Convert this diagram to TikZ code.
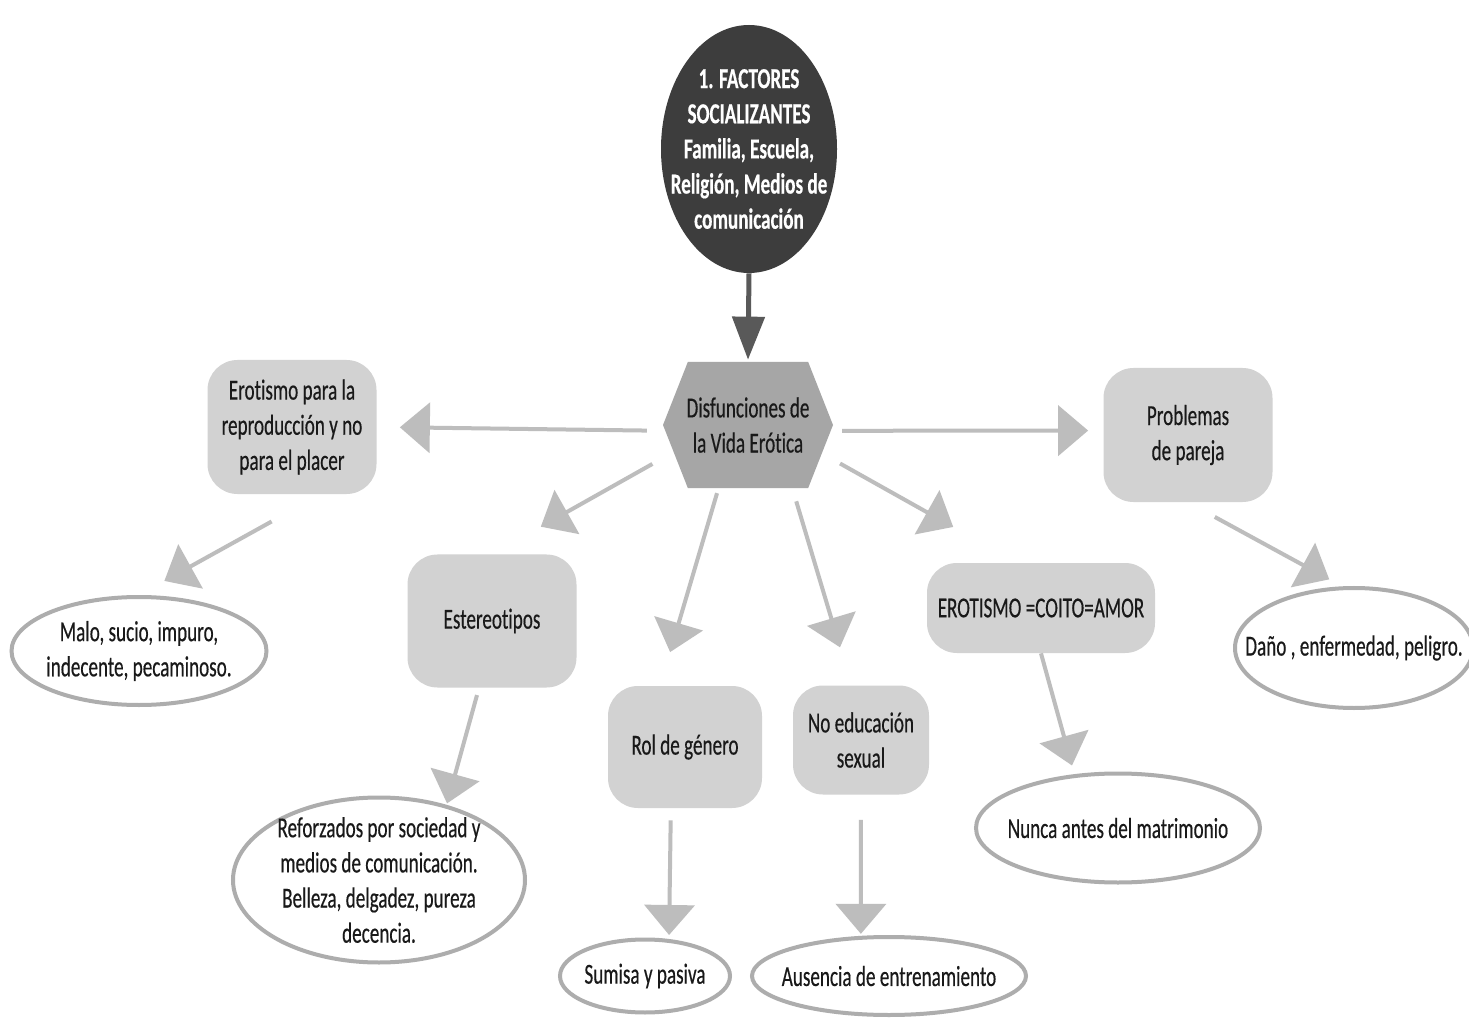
\documentclass[tikz,border=0pt]{standalone}
\usepackage{fontspec}
\setmainfont{Carlito}[FakeStretch=0.66, FakeBold=0.4, Ligatures=NoCommon]
\usepackage{xcolor}
\usepackage{tikz}
\usetikzlibrary{arrows.meta,shapes.geometric,shapes.symbols}

\definecolor{darknode}{HTML}{3D3D3D}
\definecolor{hexgray}{HTML}{A6A6A6}
\definecolor{boxgray}{HTML}{D2D2D2}
\definecolor{arrowgray}{HTML}{BDBDBD}
\definecolor{rimgray}{HTML}{ADADAD}
\definecolor{darkarrow}{HTML}{595959}

\begin{document}
\begin{tikzpicture}[x=0.2mm, y=-0.2mm,
    every node/.style={font=\fontsize{16.5}{20}\selectfont, align=center, inner sep=-10mm, text=black!90},
    topic/.style={ellipse, fill=darknode, text=white, font=\fontsize{16.5}{20}\selectfont\bfseries},
    hexa/.style={signal, signal to=west and east, signal pointer angle=137, fill=hexgray},
    box/.style={rectangle, rounded corners=6mm, fill=boxgray},
    oval/.style={ellipse, draw=rimgray, line width=0.8mm, fill=white},
    arr/.style={draw=arrowgray, line width=0.8mm, -{Triangle[length=6mm,width=10mm]}},
    darr/.style={draw=darkarrow, line width=1mm, -{Triangle[length=8.6mm,width=6.4mm]}}
]
    \fill[white] (0,0) rectangle (1469,1022);
    \useasboundingbox (0,0) rectangle (1469,1022);

    \node[topic, minimum width=35.2mm, minimum height=49.6mm] (soc) at (749,149) {1. FACTORES\\SOCIALIZANTES\\Familia, Escuela,\\Religión, Medios de\\comunicación};
    \node[hexa, minimum width=34mm, minimum height=25.2mm] (dis) at (748,425) {Disfunciones de\\la Vida Erótica};

    \node[box, minimum width=33.8mm, minimum height=26.8mm] (ero) at (292,427) {Erotismo para la\\reproducción y no\\para el placer};
    \node[box, minimum width=33.8mm, minimum height=26.8mm] (prob) at (1188,435) {Problemas\\de pareja};
    \node[box, minimum width=33.8mm, minimum height=26.6mm] (est) at (492,621) {Estereotipos};
    \node[box, minimum width=30.8mm, minimum height=24.4mm] (rol) at (685,747) {Rol de género};
    \node[box, minimum width=27.2mm, minimum height=21.8mm] (noedu) at (861,740) {No educación\\sexual};
    \node[box, minimum width=45.6mm, minimum height=18mm] (coito) at (1041,608) {EROTISMO =COITO=AMOR};

    \node[oval, minimum width=51mm, minimum height=21.6mm] (malo) at (139,651) {Malo, sucio, impuro,\\indecente, pecaminoso.};
    \node[oval, minimum width=58.4mm, minimum height=33mm] (refo) at (379,880) {Reforzados por sociedad y\\medios de comunicación.\\Belleza, delgadez, pureza\\decencia.};
    \node[oval, minimum width=34mm, minimum height=14.6mm] (sumisa) at (645,976) {Sumisa y pasiva};
    \node[oval, minimum width=54.8mm, minimum height=15.6mm] (aus) at (889,976) {Ausencia de entrenamiento};
    \node[oval, minimum width=56.8mm, minimum height=21.8mm] (nunca) at (1118,828) {Nunca antes del matrimonio};
    \node[oval, minimum width=47.6mm, minimum height=24mm] (dano) at (1354,648) {Daño , enfermedad, peligro.};

    \draw[darr, shorten >=0.4mm] (soc.south) -- (dis.north);

    \draw[arr, shorten <=3.6mm, shorten >=4.6mm] (dis.184) -- (ero.east);
    \draw[arr, shorten <=2.2mm, shorten >=3mm] (dis.356) -- (prob.177);
    \draw[arr, shorten <=4.8mm, shorten >=11.2mm] (dis.200) -- (est.north);
    \draw[arr, shorten <=1mm, shorten >=7mm] (dis.245) -- (rol.112);
    \draw[arr, shorten <=2.7mm, shorten >=7.9mm] (dis.305) -- (noedu.100);
    \draw[arr, shorten <=4.1mm, shorten >=14.6mm] (dis.339) -- (coito.118);

    \draw[arr, shorten <=11.2mm, shorten >=5.8mm] (ero.293) -- (malo.north);
    \draw[arr, shorten <=1.5mm, shorten >=0.3mm] (est.259) -- (refo.48);
    \draw[arr, shorten <=2.4mm, shorten >=0.8mm] (rol.257) -- (sumisa.57);
    \draw[arr, shorten <=5mm, shorten >=0.4mm] (noedu.south) -- (aus.125);
    \draw[arr, shorten >=1.8mm] (coito.south) -- (nunca.129);
    \draw[arr, shorten <=6.1mm, shorten >=2.9mm] (prob.south) -- (dano.101);
\end{tikzpicture}
\end{document}
